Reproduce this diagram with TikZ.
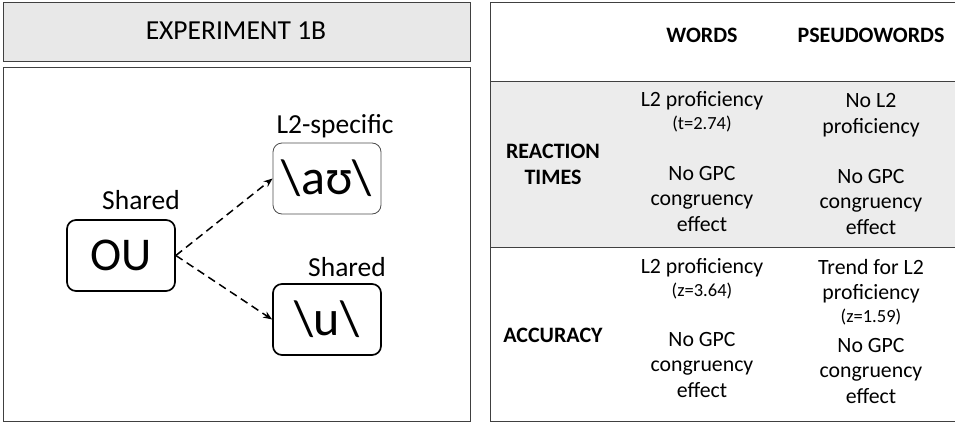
\documentclass[tikz,border=0pt]{standalone}
\usepackage{fontspec}
\setmainfont{Carlito}
\usepackage{tikz}
\usetikzlibrary{arrows.meta}

\newcommand{\statval}[1]{\fontsize{18.5}{21}\selectfont #1}

\begin{document}
\begin{tikzpicture}[>={Stealth[length=9pt,width=7pt]},x=1pt,y=-1pt,
    panel/.style={draw=black!75, line width=1pt},
    phon/.style={draw, rounded corners=9pt, line width=1.7pt,
      minimum width=108pt, minimum height=71pt, inner sep=0pt,
      font=\fontsize{50}{50}\selectfont},
    tag/.style={anchor=base, inner sep=0pt, font=\fontsize{27.5}{27.5}\selectfont},
    cell/.style={anchor=base, inner sep=0pt, align=center,
      font=\fontsize{21.8}{25.5}\selectfont},
    rowhead/.style={cell, font=\fontsize{22}{26}\selectfont\bfseries},
    link/.style={->, dash pattern=on 8pt off 5pt, line width=1.5pt},
  ]
  \useasboundingbox (0,0) rectangle (955,423);

  % left panel
  \draw[panel, fill=gray!18] (3,2) rectangle (470,61);
  \node (title) at (236,31) {\fontsize{27.5}{27.5}\selectfont EXPERIMENT 1B};
  \draw[panel] (3,67) rectangle (470,421);

  \node[phon, font=\fontsize{47}{47}\selectfont] (ou) at (121,255.5) {OU};
  \node[phon, line width=0.8pt, draw=black!70] (aou) at (327,178.5) {\textbackslash aʊ\textbackslash};
  \node[phon] (uu) at (327,319.5) {\textbackslash u\textbackslash};

  \node[tag] (ou-tag) at (141,209) {Shared};
  \node[tag] (aou-tag) at (335,133) {L2-specific};
  \node[tag] (uu-tag) at (347,276) {Shared};

  \draw[link] (ou.east) -- (aou.west);
  \draw[link] (ou.east) -- (uu.west);

  % right panel: table
  \fill[gray!15] (490,81) rectangle (955,247);
  \draw[panel] (955,2) -- (490,2) -- (490,421) -- (955,421);
  \draw[panel] (490,81) -- (955,81);
  \draw[panel] (490,247) -- (955,247);

  % anchor=base sits on the last line
  \node[rowhead] (words) at (702,42) {WORDS};
  \node[rowhead] (pseudo) at (871,42) {PSEUDOWORDS};
  \node[rowhead] (rt) at (553,184) {REACTION\\TIMES};
  \node[rowhead] (acc) at (553,342) {ACCURACY};

  \node[cell] (rt-w-a) at (702,129) {L2 proficiency\\[-3pt]\statval{(t=2.74)}};
  \node[cell] (rt-w-b) at (702,231) {No GPC\\congruency\\effect};
  \node[cell] (rt-p-a) at (871,133) {No L2\\proficiency};
  \node[cell] (rt-p-b) at (871,234) {No GPC\\congruency\\effect};

  \node[cell] (acc-w-a) at (702,296) {L2 proficiency\\[-3pt]\statval{(z=3.64)}};
  \node[cell] (acc-w-b) at (702,397) {No GPC\\congruency\\effect};
  \node[cell] (acc-p-a) at (871,322) {Trend for L2\\proficiency\\[-3pt]\statval{(z=1.59)}};
  \node[cell] (acc-p-b) at (871,403) {No GPC\\congruency\\effect};
\end{tikzpicture}
\end{document}
